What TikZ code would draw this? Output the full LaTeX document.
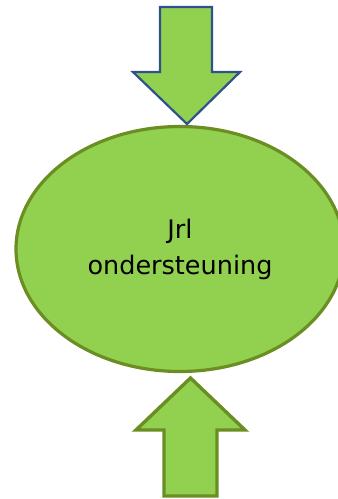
\documentclass[tikz,border=0pt]{standalone}
\usepackage{fontspec}
\setmainfont{DejaVu Sans}
\usetikzlibrary{shapes.geometric}
\definecolor{leaf}{HTML}{92D050}
\definecolor{olive}{HTML}{6A8E22}
\definecolor{navy}{HTML}{2F528F}
\begin{document}
\begin{tikzpicture}
    [x=1pt,y=-1pt,
     blob/.style={ellipse,draw=olive,fill=leaf,line width=3.2pt,inner sep=0pt,
       minimum width=328pt,minimum height=245pt,align=center,
       font=\fontsize{25.5}{36}\selectfont},
     downarrow/.style={draw=navy,fill=leaf,line width=2.2pt,line join=miter},
     uparrow/.style={draw=olive,fill=leaf,line width=3.4pt,line join=miter}]
    \useasboundingbox (0,0) rectangle (338,499);
    \node[blob] (jrl) at (180,249) {Jrl\\ondersteuning};
    \coordinate (toptip) at (187,124);
    \coordinate (bottip) at (190.5,378);

    \draw[downarrow] (toptip) -- (240,72) -- (212,72) -- (212,7) -- (160,7)
        -- (160,72) -- (133,72) -- cycle;
    \draw[uparrow] (bottip) -- (245,430) -- (217,430) -- (217,496) -- (164,496)
        -- (164,430) -- (136,430) -- cycle;
\end{tikzpicture}
\end{document}
